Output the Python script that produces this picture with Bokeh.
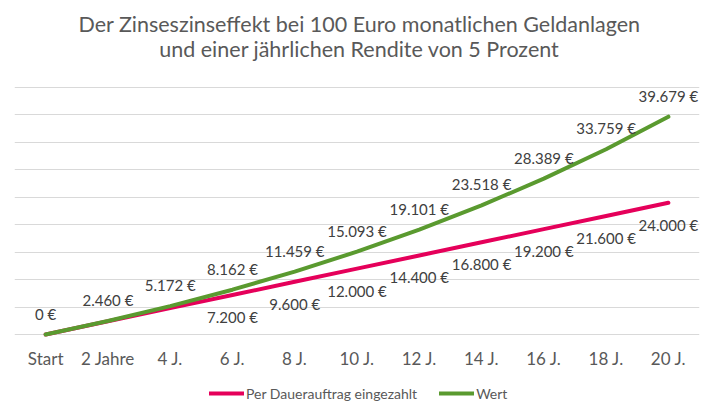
from bokeh.plotting import figure
from bokeh.models import ColumnDataSource, Range1d, Label, Legend, LegendItem, FixedTicker
from bokeh.core.properties import value
from bokeh.embed import file_html
from bokeh.resources import INLINE

title_lines = ["Der Zinseszinseffekt bei 100 Euro monatlichen Geldanlagen",
               "und einer jährlichen Rendite von 5 Prozent"]
categories = ["Start", "2 Jahre", "4 J.", "6 J.", "8 J.", "10 J.", "12 J.",
              "14 J.", "16 J.", "18 J.", "20 J."]
eingezahlt = [0, 2400, 4800, 7200, 9600, 12000, 14400, 16800, 19200, 21600, 24000]
wert = [0, 2460, 5172, 8162, 11459, 15093, 19101, 23518, 28389, 33759, 39679]
y_ticks = [0, 5000, 10000, 15000, 20000, 25000, 30000, 35000, 40000, 45000]

RED = "#E5005A"
GREEN = "#5A9A2F"
TXT = "#404040"
GREY = "#595959"
FONT = "Lato"

W, H = 707, 412
FRAME_TOP, FRAME_BOTTOM = 87, 334          # pixel rows of 45000 and 0
per_px = (y_ticks[-1] - y_ticks[0]) / (FRAME_BOTTOM - FRAME_TOP)
y_lo = y_ticks[0] - (H - FRAME_BOTTOM) * per_px
y_hi = y_ticks[-1] + FRAME_TOP * per_px


def fmt(v):
    return f"{v:,}".replace(",", ".") + " €"


src_red = ColumnDataSource(dict(x=categories, y=eingezahlt))
src_green = ColumnDataSource(dict(x=categories, y=wert))
lab_red = ColumnDataSource(dict(x=categories[3:], y=eingezahlt[3:],
                                t=[fmt(v) for v in eingezahlt[3:]]))
lab_green = ColumnDataSource(dict(x=categories, y=wert, t=[fmt(v) for v in wert]))
cat_src = ColumnDataSource(dict(x=categories, y=[0] * len(categories), t=categories))

p = figure(width=W, height=H, x_range=categories, y_range=Range1d(y_lo, y_hi),
           output_backend="svg", toolbar_location=None,
           min_border_left=14, min_border_right=8, min_border_top=0, min_border_bottom=0)
p.outline_line_color = None
p.background_fill_color = "white"
p.border_fill_color = "white"

p.xaxis.visible = False
p.yaxis.visible = False
p.ygrid.ticker = FixedTicker(ticks=y_ticks)
p.ygrid.grid_line_color = "#D9D9D9"
p.ygrid.grid_line_width = 1
p.xgrid.grid_line_color = None

# titles
p.add_layout(Label(x=345, y=H - 23, x_units="screen", y_units="screen", text=title_lines[0],
                   text_align="center", text_baseline="alphabetic", text_font=FONT,
                   text_font_size="21.5px", text_color=GREY))
p.add_layout(Label(x=345, y=H - 48, x_units="screen", y_units="screen", text=title_lines[1],
                   text_align="center", text_baseline="alphabetic", text_font=FONT,
                   text_font_size="21.5px", text_color=GREY))

# category labels under the baseline
p.text("x", "y", text="t", source=cat_src, text_font=value(FONT), text_font_size="17px",
       text_color=GREY, text_align="center", text_baseline="middle", y_offset=24)

r_red = p.line("x", "y", source=src_red, line_color=RED, line_width=4, line_cap="round")
r_green = p.line("x", "y", source=src_green, line_color=GREEN, line_width=4, line_cap="round")

p.text("x", "y", text="t", source=lab_green, text_font=value(FONT), text_font_size="15px",
       text_color=TXT, text_align="center", text_baseline="middle", y_offset=-21)
p.text("x", "y", text="t", source=lab_red, text_font=value(FONT), text_font_size="15px",
       text_color=TXT, text_align="center", text_baseline="middle", y_offset=22)

legend = Legend(items=[LegendItem(label="Per Dauerauftrag eingezahlt", renderers=[r_red]),
                       LegendItem(label="Wert", renderers=[r_green])],
                orientation="horizontal", location=(195, 9),
                label_text_font=FONT, label_text_font_size="14px", label_text_color=GREY,
                glyph_width=35, glyph_height=20, label_standoff=2, spacing=22,
                margin=0, padding=0, border_line_color=None, background_fill_alpha=0)
p.add_layout(legend, "center")

open("out.html", "w").write(file_html(p, INLINE))
